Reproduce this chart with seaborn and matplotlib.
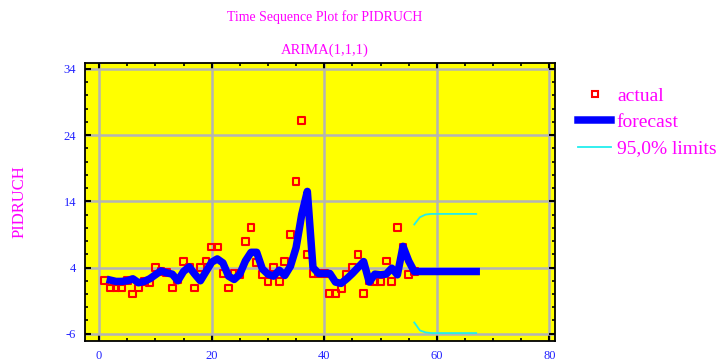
import numpy as np
import pandas as pd
import matplotlib
matplotlib.use("Agg")
import matplotlib.pyplot as plt
from matplotlib.lines import Line2D
from matplotlib.ticker import MultipleLocator, FixedLocator
import seaborn as sns

# ---- data ----
actual_t = list(range(1, 57))
actual = [2.0, 0.9, 0.9, 0.9, 2.0, 0.0, 0.9, 1.9, 1.7, 4.0,
          3.4, 3.2, 0.9, 2.2, 4.9, 4.0, 0.9, 4.0, 5.0, 7.1,
          7.1, 3.1, 0.9, 3.1, 3.0, 7.9, 10.0, 4.8, 3.0, 1.9,
          4.0, 1.9, 4.9, 9.0, 17.0, 26.2, 6.0, 3.1, 3.1, 3.1,
          0.05, 0.05, 0.8, 3.0, 4.0, 6.0, 0.1, 2.0, 1.9, 1.9,
          5.0, 1.9, 10.0, 7.0, 3.0, 3.4]

forecast_t = list(range(2, 68))
forecast = [2.1, 1.9, 1.9, 2.0, 2.3, 1.7, 1.9, 2.3, 2.9, 3.5,
            3.2, 3.0, 2.0, 3.4, 4.1, 3.0, 2.0, 3.4, 4.8, 5.3,
            4.7, 2.7, 2.2, 3.0, 5.0, 6.3, 6.3, 3.8, 3.0, 2.7,
            3.6, 2.8, 4.2, 7.0, 12.0, 15.5, 4.0, 3.1, 3.1, 3.1,
            1.8, 1.6, 2.3, 3.1, 4.0, 4.9, 1.8, 3.0, 2.9, 3.0,
            3.9, 2.9, 7.2, 5.0, 3.4,
            3.4, 3.4, 3.4, 3.4, 3.4, 3.4, 3.4, 3.4, 3.4, 3.4, 3.4]

limit_t = list(range(56, 68))
upper = [10.5, 11.6, 12.0, 12.1, 12.1, 12.1, 12.1, 12.1, 12.1, 12.1, 12.1, 12.1]
lower = [-4.3, -5.5, -5.8, -5.9, -5.9, -5.9, -5.9, -5.9, -5.9, -5.9, -5.9, -5.9]

x_major = [0, 20, 40, 60, 80]
y_major = [-6, 4, 14, 24, 34]

title1 = "Time Sequence Plot for PIDRUCH"
title2 = "ARIMA(1,1,1)"
ylabel = "PIDRUCH"
legend_labels = ["actual", "forecast", "95,0% limits"]

# ---- styling ----
plt.rcParams["axes.unicode_minus"] = False
SERIF = ["Liberation Serif", "DejaVu Serif"]
MAGENTA = "#FF00FF"
TICKBLUE = "#2222FF"
BLUE = "#0000FF"
CYAN = "#22EEEE"

fig = plt.figure(figsize=(7.17, 3.62), dpi=100)
W, H = 717, 362
ax = fig.add_axes([85 / W, 1 - 341 / H, (555 - 85) / W, (341 - 63) / H])
ax.set_facecolor("#FFFF00")

df_act = pd.DataFrame({"t": actual_t, "v": actual})
df_fc = pd.DataFrame({"t": forecast_t, "v": forecast})
df_up = pd.DataFrame({"t": limit_t, "v": upper})
df_lo = pd.DataFrame({"t": limit_t, "v": lower})

sns.scatterplot(data=df_act, x="t", y="v", ax=ax, marker="s", s=24,
                facecolors="none", edgecolors="#FF0000", linewidth=1.5,
                zorder=2, legend=False)
sns.lineplot(data=df_fc, x="t", y="v", ax=ax, color=BLUE, linewidth=5.4,
             solid_capstyle="projecting", zorder=3, legend=False)
sns.lineplot(data=df_up, x="t", y="v", ax=ax, color=CYAN, linewidth=1.3,
             zorder=3, legend=False)
sns.lineplot(data=df_lo, x="t", y="v", ax=ax, color=CYAN, linewidth=1.3,
             zorder=3, legend=False)

ax.set_xlim(-2.5, 81)
ax.set_ylim(-7.1, 34.9)
ax.xaxis.set_major_locator(FixedLocator(x_major))
ax.xaxis.set_minor_locator(MultipleLocator(5))
ax.yaxis.set_major_locator(FixedLocator(y_major))
ax.yaxis.set_minor_locator(FixedLocator(np.arange(-6, 35, 2)))
ax.set_axisbelow(True)
ax.grid(True, which="major", color="#B4B4B4", linewidth=1.8)
ax.set_xlabel("")
ax.set_ylabel("")

ax.tick_params(which="both", direction="in", top=True, right=True,
               color="black", labelcolor=TICKBLUE)
ax.tick_params(which="major", length=4, width=1.5, pad=6.5)
ax.tick_params(which="minor", length=2.5, width=1.2)
for lab in ax.get_xticklabels() + ax.get_yticklabels():
    lab.set_fontfamily(SERIF)
    lab.set_fontsize(9)
for sp in ax.spines.values():
    sp.set_color("black")
    sp.set_linewidth(1.3)

fig.text(325 / W, 1 - 17 / H, title1, ha="center", va="center",
         color=MAGENTA, fontsize=10, family=SERIF)
fig.text(325 / W, 1 - 50 / H, title2, ha="center", va="center",
         color=MAGENTA, fontsize=10.5, family=SERIF)
fig.text(20 / W, 1 - 202 / H, ylabel, rotation=90, ha="center", va="center",
         color=MAGENTA, fontsize=12, family=SERIF)

handles = [
    Line2D([], [], marker="s", ls="", mec="#FF0000", mfc="none", ms=4.5, mew=1.5),
    Line2D([], [], color=BLUE, lw=5.4),
    Line2D([], [], color=CYAN, lw=1.3),
]
fig.legend(handles, legend_labels, loc="upper left",
           bbox_to_anchor=(578 / W, 1 - 87 / H), frameon=False,
           prop={"family": SERIF, "size": 14}, labelcolor=MAGENTA,
           handlelength=1.7, handletextpad=0.3, labelspacing=0.45,
           borderpad=0, borderaxespad=0)

fig.savefig("out.png", dpi=100)
